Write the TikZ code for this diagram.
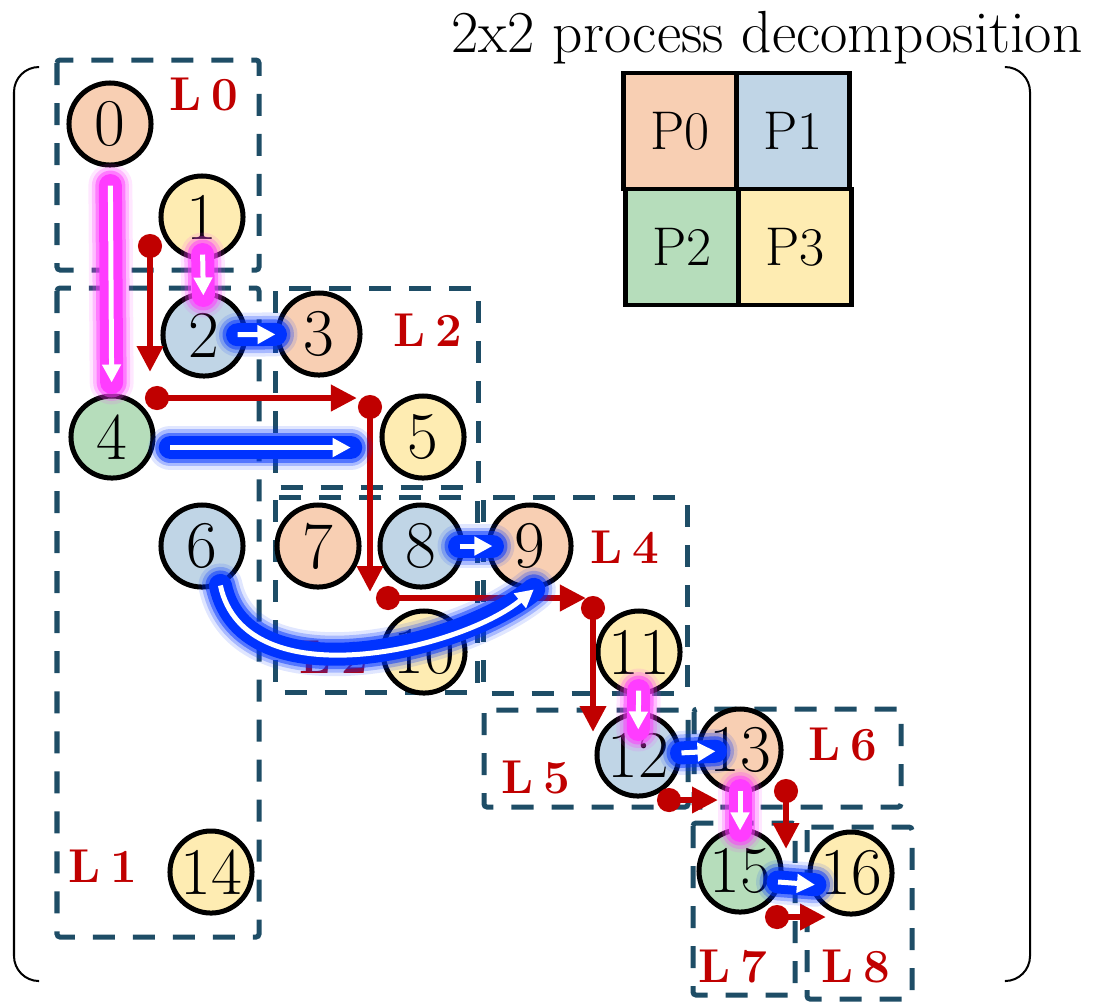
\documentclass[tikz,border=0pt]{standalone}
\usepackage{tikz}
\usetikzlibrary{arrows.meta}

\definecolor{porange}{RGB}{248,207,179}
\definecolor{pblue}{RGB}{192,213,230}
\definecolor{pgreen}{RGB}{182,221,187}
\definecolor{pyellow}{RGB}{254,236,178}
\definecolor{lvlblue}{RGB}{30,77,102}
\definecolor{depred}{RGB}{192,0,0}
\definecolor{pinkglow}{RGB}{255,60,255}
\definecolor{blueglow}{RGB}{0,51,255}

\begin{document}
\begin{tikzpicture}[x = 0.01cm, y = -0.01cm,
  proc/.style = {shape = circle, draw, line width = 0.05cm, minimum size = 0.82cm, inner sep = 0pt, font = \fontsize{19}{20}\selectfont},
  cell/.style = {shape = rectangle, draw, line width = 0.045cm, minimum width = 1.13cm, minimum height = 1.16cm, font = \fontsize{15.5}{18}\selectfont},
  lvl/.style = {draw = lvlblue, line width = 0.05cm, dash pattern = on 0.22cm off 0.18cm, rounded corners = 0.03cm},
  lvlname/.style = {text = depred, font = \bfseries\fontsize{13.5}{15}\selectfont, execute at begin node = {\spaceskip = 0.22em\relax}},
  dep/.style = {draw = depred, line width = 0.065cm, {Circle[length = 0.24cm]}-{Triangle[length = 0.26cm, width = 0.25cm]}},
  flow/.style = {draw = white, line width = 0.05cm, -{Triangle[length = 0.18cm, width = 0.18cm]}},
  glow/.style = {preaction = {draw = #1, -, line cap = round, line width = 0.44cm, draw opacity = .12},
                 preaction = {draw = #1, -, line cap = round, line width = 0.37cm, draw opacity = .25},
                 preaction = {draw = #1, -, line cap = round, line width = 0.30cm, draw opacity = .5},
                 preaction = {draw = #1, -, line cap = round, line width = 0.23cm}}]
\useasboundingbox (0,0) rectangle (1095,1002);

% levels
\draw[lvl] (57,60) rectangle (259,270);
\draw[lvl] (57,288) rectangle (259,937);
\draw[lvl] (275,288) rectangle (478,487);
\draw[lvl] (275,497) rectangle (477,692);
\draw[lvl] (483,497) rectangle (687,693);
\draw[lvl] (484,710) rectangle (688,807);
\draw[lvl] (694,709) rectangle (901,807);
\draw[lvl] (693,823) rectangle (795,995);
\draw[lvl] (807,827) rectangle (912,999);
\node[lvlname] (l0) at (204,94) {L 0};
\node[lvlname] (l1) at (103,866) {L 1};
\node[lvlname] (l2) at (428,330) {L 2};
\node[lvlname] (l3) at (334,657) {L 2};
\node[lvlname] (l4) at (625,547) {L 4};
\node[lvlname] (l5) at (536,777) {L 5};
\node[lvlname] (l6) at (843,744) {L 6};
\node[lvlname] (l7) at (733,966) {L 7};
\node[lvlname] (l8) at (856,966) {L 8};

% rows of the factor
\node[proc, fill = porange] (0) at (110,124) {0};
\node[proc, fill = pyellow] (1) at (202,217) {1};
\node[proc, fill = pblue] (2) at (204,335) {2};
\node[proc, fill = porange] (3) at (319,334) {3};
\node[proc, fill = pgreen] (4) at (112,437) {4};
\node[proc, fill = pyellow] (5) at (423,437) {5};
\node[proc, fill = pblue] (6) at (202,546) {6};
\node[proc, fill = porange] (7) at (318,546) {7};
\node[proc, fill = pblue] (8) at (421,546) {8};
\node[proc, fill = porange] (9) at (530,546) {9};
\node[proc, fill = pyellow] (10) at (424,652) {10};
\node[proc, fill = pyellow] (11) at (639,652) {11};
\node[proc, fill = pblue] (12) at (638,755) {12};
\node[proc, fill = porange] (13) at (740,750) {13};
\node[proc, fill = pyellow] (14) at (211,872) {14};
\node[proc, fill = pgreen] (15) at (740,871) {15};
\node[proc, fill = pyellow] (16) at (851,873) {16};

% process grid
\node[font = \fontsize{16.9}{18}\selectfont, anchor = base] (title) at (767,52) {2x2 process decomposition};
\node[cell, fill = porange] (P0) at (680,131) {P0};
\node[cell, fill = pblue] (P1) at (793,131) {P1};
\node[cell, fill = pgreen] (P2) at (682,247) {P2};
\node[cell, fill = pyellow] (P3) at (795,247) {P3};

\draw[line width = 0.02cm, rounded corners = 0.25cm] (38,67) -- (14,67) -- (14,981) -- (38,981);
\draw[line width = 0.02cm, rounded corners = 0.25cm] (1006,67) -- (1030,67) -- (1030,981) -- (1006,981);

% dependencies
\coordinate (d1) at (150,234); \coordinate (e1) at (150,372);
\coordinate (d2) at (145,398); \coordinate (e2) at (357,398);
\coordinate (d3) at (370,395); \coordinate (e3) at (370,592);
\coordinate (d4) at (376,598); \coordinate (e4) at (586,598);
\coordinate (d5) at (593,596); \coordinate (e5) at (593,732);
\coordinate (d6) at (657,800); \coordinate (e6) at (718,800);
\coordinate (d7) at (786,779); \coordinate (e7) at (786,849);
\coordinate (d8) at (765,917); \coordinate (e8) at (826,917);
\foreach \i in {1,...,8}
  \draw[dep] (d\i) -- (e\i);

% messages
\draw[glow = pinkglow, flow, shorten <= 0.18cm, shorten >= 0.11cm] (0) -- (4);
\draw[glow = pinkglow, flow, shorten <= -0.06cm, shorten >= -0.04cm] (1) -- (2);
\draw[glow = pinkglow, flow, shorten <= -0.05cm, shorten >= -0.18cm] (11) -- (12);
\draw[glow = pinkglow, flow, shorten <= -0.03cm, shorten >= -0.03cm] (13) -- (15);
\draw[glow = blueglow, flow, shorten <= -0.10cm] (2) -- (3);
\draw[glow = blueglow, flow, shorten <= 0.16cm, shorten >= 0.30cm] (4.-14) -- (5.194);
\draw[glow = blueglow, flow, shorten <= -0.05cm, shorten >= -0.06cm] (8) -- (9);
\draw[glow = blueglow, flow, shorten >= -0.19cm] (12) -- (13);
\draw[glow = blueglow, flow, shorten <= -0.04cm, shorten >= -0.06cm] (15.-15) -- (16.195);
\draw[glow = blueglow, flow] (6.-65) .. controls (245,700) and (460,650) .. (9.-85);
\end{tikzpicture}
\end{document}
